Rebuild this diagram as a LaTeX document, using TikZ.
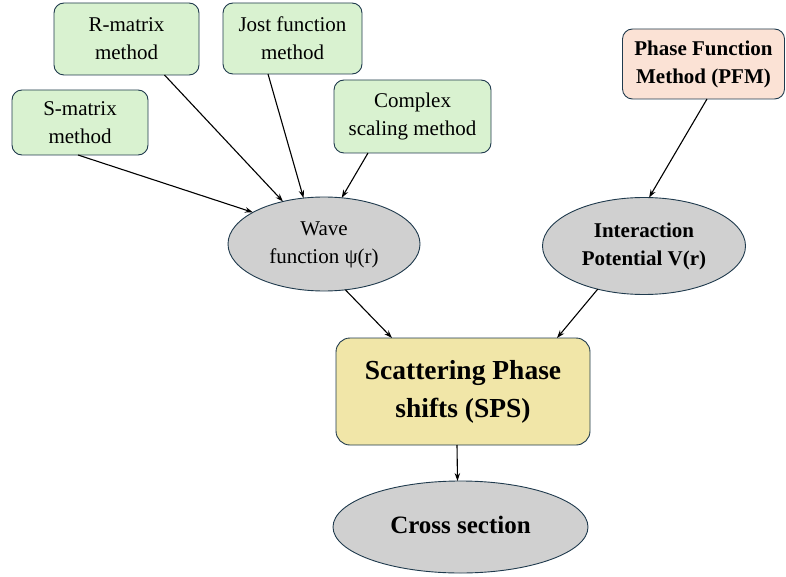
\documentclass[tikz,border=0pt]{standalone}
\usepackage{fontspec}
\setmainfont{Liberation Serif}
\usetikzlibrary{shapes.geometric,arrows.meta}
\definecolor{bordc}{HTML}{1F3A4D}
\definecolor{greenf}{HTML}{D9F2D0}
\definecolor{pinkf}{HTML}{FBE2D5}
\definecolor{grayf}{HTML}{D0D0D0}
\definecolor{yellowf}{HTML}{F1E6A8}
\begin{document}
\begin{tikzpicture}[x=1pt,y=-1pt,
  base/.style={draw=bordc,line width=0.9pt,align=center,inner sep=0pt,outer sep=0pt,
    font=\fontsize{21}{28}\selectfont},
  gbox/.style={base,rectangle,rounded corners=10pt,fill=greenf},
  pbox/.style={base,rectangle,rounded corners=10pt,fill=pinkf,font=\fontsize{21}{28}\selectfont\bfseries},
  gell/.style={base,ellipse,fill=grayf},
  sbox/.style={base,rectangle,rounded corners=14pt,fill=yellowf,font=\fontsize{27.5}{38}\selectfont\bfseries},
  arr/.style={line width=1.1pt,-{Stealth[length=8pt,width=5.5pt]}}]
\useasboundingbox (0,0) rectangle (786,577);
\node[gbox,minimum width=145pt,minimum height=72pt] (rm) at (126.5,39) {R-matrix\\method};
\node[gbox,minimum width=139pt,minimum height=71pt] (jost) at (292.5,38.5) {Jost function\\method};
\node[gbox,minimum width=136pt,minimum height=65pt] (sm) at (80,122.5) {S-matrix\\method};
\node[gbox,minimum width=157pt,minimum height=73pt] (cs) at (412.5,116.5) {Complex\\scaling method};
\node[pbox,minimum width=162pt,minimum height=70pt] (pfm) at (703.5,64) {Phase Function\\Method (PFM)};
\node[gell,minimum width=192pt,minimum height=94pt] (wave) at (324,244) {\raisebox{2pt}{\begin{tabular}{@{}c@{}}Wave\\function ψ(r)\end{tabular}}};
\node[gell,minimum width=203pt,minimum height=97pt,font=\fontsize{21}{28}\selectfont\bfseries] (inter) at (644,246) {Interaction\\Potential V(r)};
\node[sbox,minimum width=254pt,minimum height=107pt] (sps) at (463,391.5) {Scattering Phase\\shifts (SPS)};
\node[gell,minimum width=255pt,minimum height=92pt,font=\fontsize{25}{30}\selectfont\bfseries] (cross) at (460.5,527) {\raisebox{5pt}{Cross section}};
\draw[arr] ([xshift=38pt]rm.south) -- (wave.134);
\draw[arr] ([xshift=-24.5pt]jost.south) -- (wave.114);
\draw[arr] ([xshift=-44.5pt]cs.south) -- (wave.69);
\draw[arr] ([xshift=-2pt]sm.south) -- (wave.156);
\draw[arr] ([xshift=3.5pt]pfm.south) -- (inter.84);
\draw[arr] (wave.-65) -- ([xshift=-71pt]sps.north);
\draw[arr] (inter.223) -- ([xshift=94pt]sps.north);
\draw[arr] ([xshift=-6pt]sps.south) -- ([xshift=-3pt]cross.north);
\end{tikzpicture}
\end{document}
